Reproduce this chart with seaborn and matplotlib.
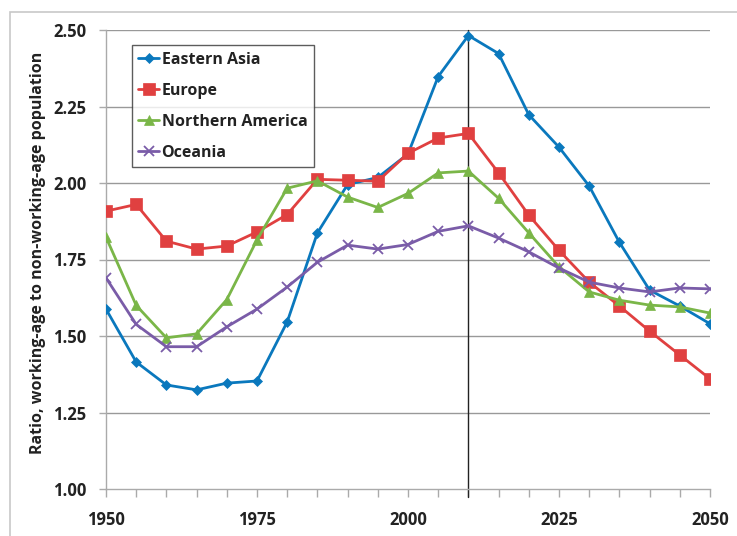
import matplotlib
matplotlib.use("Agg")
import matplotlib.pyplot as plt
import matplotlib.patches as mpatches
from matplotlib.ticker import MultipleLocator
import seaborn as sns
import pandas as pd

# data
years = list(range(1950, 2051, 5))
eastern_asia = [1.588, 1.415, 1.340, 1.324, 1.346, 1.353, 1.546, 1.837, 1.995, 2.018,
                2.095, 2.348, 2.482, 2.423, 2.223, 2.117, 1.990, 1.806, 1.650, 1.598, 1.540]
europe = [1.908, 1.930, 1.810, 1.784, 1.794, 1.840, 1.897, 2.012, 2.009, 2.006,
          2.097, 2.147, 2.162, 2.033, 1.895, 1.780, 1.676, 1.598, 1.516, 1.438, 1.360]
northern_america = [1.823, 1.600, 1.494, 1.507, 1.619, 1.814, 1.983, 2.007, 1.954, 1.920,
                    1.966, 2.033, 2.039, 1.950, 1.837, 1.726, 1.644, 1.617, 1.601, 1.595, 1.575]
oceania = [1.690, 1.538, 1.465, 1.465, 1.530, 1.588, 1.660, 1.741, 1.797, 1.784,
           1.799, 1.842, 1.860, 1.820, 1.775, 1.722, 1.676, 1.657, 1.644, 1.657, 1.654]

regions = ["Eastern Asia", "Europe", "Northern America", "Oceania"]
values = [eastern_asia, europe, northern_america, oceania]
colors = ["#0a78bd", "#e04040", "#7ab648", "#7a5ca8"]
markers = ["D", "s", "^", "x"]
msizes = [5, 8, 7, 7]

rows = []
for name, vals in zip(regions, values):
    for y, v in zip(years, vals):
        rows.append({"year": y, "ratio": v, "region": name})
df = pd.DataFrame(rows)

sns.set_style("white")
plt.rcParams["font.family"] = ["Open Sans", "DejaVu Sans"]

fig = plt.figure(figsize=(7.37, 5.36), dpi=100)
ax = fig.add_axes([106 / 737, 1 - 489 / 536, 604 / 737, 459 / 536])

# light border around the chart area (only top/left visible in the crop)
fig.patches.append(mpatches.Rectangle((10 / 737, -0.1), 1.2, 1 - 12 / 536 + 0.1,
                                      transform=fig.transFigure, fill=False,
                                      edgecolor="#c8c8c8", linewidth=1.2, zorder=0))

for ytick in [1.25, 1.5, 1.75, 2.0, 2.25, 2.5]:
    ax.axhline(ytick, color="#999999", linewidth=1.0, zorder=0)

# vertical reference line at 2010
ax.axvline(2010, ymin=-0.018, ymax=1, color="#222222", linewidth=1.0, clip_on=False, zorder=1)

for name, col, mk, ms in zip(regions, colors, markers, msizes):
    sub = df[df["region"] == name]
    sns.lineplot(data=sub, x="year", y="ratio", ax=ax, color=col, marker=mk,
                 markersize=ms, linewidth=2.0, markeredgecolor=col,
                 markeredgewidth=1.3 if mk == "x" else 0.5, label=name, zorder=3)

ax.set_xlim(1950, 2050)
ax.set_ylim(1.0, 2.5)
ax.xaxis.set_major_locator(MultipleLocator(25))
ax.xaxis.set_minor_locator(MultipleLocator(5))
ax.yaxis.set_major_locator(MultipleLocator(0.25))
ax.yaxis.set_major_formatter(matplotlib.ticker.FormatStrFormatter("%.2f"))

for side in ["top", "right"]:
    ax.spines[side].set_visible(False)
for side in ["left", "bottom"]:
    ax.spines[side].set_color("#aaaaaa")
    ax.spines[side].set_linewidth(1.0)

ax.tick_params(axis="x", which="both", direction="out", length=6, width=1,
               color="#aaaaaa", bottom=True, pad=10)
ax.tick_params(axis="y", which="major", direction="out", length=5, width=1,
               color="#aaaaaa", left=True, pad=9)
for lab in ax.get_xticklabels() + ax.get_yticklabels():
    lab.set_fontweight("bold")
    lab.set_fontsize(12)
    lab.set_color("#222222")

ax.set_xlabel("")
ax.set_ylabel("Ratio, working-age to non-working-age population", fontsize=11.5,
              fontweight="bold", color="#222222")
ax.yaxis.set_label_coords(-0.1, 0.515)

leg = ax.legend(loc="upper left", bbox_to_anchor=(0.043, 0.967), frameon=True,
                fancybox=False, edgecolor="#333333", fontsize=11.5,
                handlelength=1.3, handletextpad=0.15, borderpad=0.4,
                labelspacing=0.95, borderaxespad=0)
leg.get_frame().set_linewidth(1.0)
for t in leg.get_texts():
    t.set_fontweight("bold")
    t.set_color("#222222")

fig.savefig("out.png", dpi=100)
